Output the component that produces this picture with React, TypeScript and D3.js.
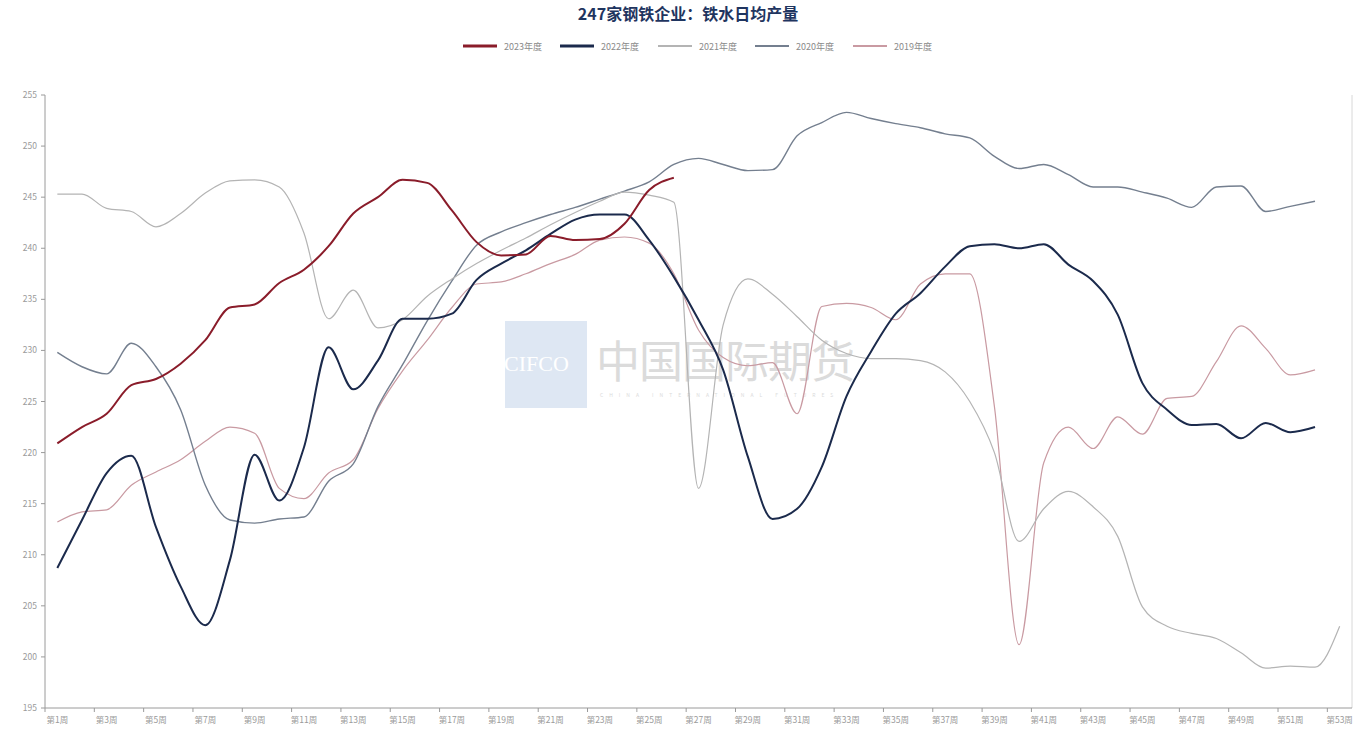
import React from "react";
import * as d3 from "d3";

const title = "247家钢铁企业：铁水日均产量";
const weeks: string[] = Array.from({ length: 53 }, (_, i) => `第${i + 1}周`);
const yTicks = [195, 200, 205, 210, 215, 220, 225, 230, 235, 240, 245, 250, 255];

const s2023 = [220.9, 222.5, 223.8, 226.6, 227.2, 228.7, 231.0, 234.2, 234.5, 236.6, 237.9, 240.2, 243.4, 245.0, 246.7, 246.4, 243.7, 240.6, 239.3, 239.4, 241.2, 240.8, 240.9, 242.4, 245.7, 246.9];
const s2022 = [208.7, 213.4, 218.0, 219.7, 212.7, 206.9, 203.1, 209.5, 219.8, 215.3, 220.5, 230.3, 226.2, 229.0, 233.1, 233.1, 233.6, 236.9, 238.5, 239.8, 241.4, 242.8, 243.3, 243.3, 240.8, 237.2, 233.0, 228.1, 219.6, 213.5, 214.5, 218.6, 225.5, 229.9, 233.6, 235.6, 238.2, 240.2, 240.4, 240.0, 240.4, 238.4, 236.8, 233.5, 226.8, 224.2, 222.7, 222.8, 221.4, 222.9, 222.0, 222.5];
const s2021 = [245.3, 245.3, 243.9, 243.6, 242.1, 243.4, 245.4, 246.6, 246.7, 246.0, 241.5, 233.1, 235.9, 232.2, 233.0, 235.3, 237.0, 238.5, 239.8, 241.0, 242.3, 243.5, 244.6, 245.5, 245.2, 244.5, 216.5, 232.5, 237.0, 235.5, 233.3, 231.0, 229.7, 229.2, 229.2, 229.0, 227.9, 225.0, 220.0, 211.3, 214.5, 216.2, 214.7, 211.8, 204.9, 203.0, 202.3, 201.8, 200.4, 198.9, 199.1, 199.0, 203.0];
const s2020 = [229.8, 228.4, 227.7, 230.7, 228.4, 224.2, 216.8, 213.4, 213.1, 213.5, 213.7, 217.2, 218.9, 224.5, 228.6, 232.9, 236.8, 240.3, 241.6, 242.5, 243.3, 244.0, 244.8, 245.6, 246.5, 248.2, 248.8, 248.2, 247.6, 247.7, 251.0, 252.3, 253.3, 252.7, 252.2, 251.8, 251.2, 250.8, 249.0, 247.8, 248.2, 247.2, 246.0, 246.0, 245.5, 244.9, 244.0, 246.0, 246.1, 243.6, 244.1, 244.6];
const s2019 = [213.2, 214.2, 214.4, 216.8, 218.1, 219.3, 221.1, 222.5, 221.9, 216.5, 215.5, 218.0, 219.3, 224.3, 228.0, 231.0, 234.2, 236.5, 236.7, 237.5, 238.5, 239.4, 240.8, 241.1, 240.5, 237.5, 232.0, 229.3, 228.5, 228.8, 223.8, 234.3, 234.6, 234.2, 233.0, 236.5, 237.5, 237.5, 224.5, 201.2, 219.0, 222.5, 220.4, 223.5, 221.8, 225.3, 225.5, 228.9, 232.4, 230.2, 227.6, 228.1];

const seriesNames = ["2023年度", "2022年度", "2021年度", "2020年度", "2019年度"];
const seriesData = [s2023, s2022, s2021, s2020, s2019];
const seriesColors = ["#8a1c2a", "#1b2a4c", "#b4b4b4", "#747f8f", "#c99aa2"];
const seriesWidths = [2, 2, 1.2, 1.4, 1.2];

export default function App() {
  const W = 1360, H = 732;
  const left = 45, right = 1352, top = 95, bottom = 708;
  const x = d3.scaleBand<string>().domain(weeks).range([left, right]).paddingInner(0).paddingOuter(0);
  const bw = x.bandwidth();
  const cx = (i: number) => (x(weeks[i]) as number) + bw / 2;
  const y = d3.scaleLinear().domain([195, 255]).range([bottom, top]);
  const line = d3.line<number>().x((_, i) => cx(i)).y((d) => y(d)).curve(d3.curveMonotoneX);

  const legendX = [463, 560, 658, 755, 853];
  const drawOrder = [4, 3, 2, 1, 0];

  return (
    <svg width={W} height={H} style={{ position: "absolute", left: 0, top: 0, background: "#fff" }} fontFamily="'Noto Sans CJK SC', 'Noto Sans', sans-serif">
      <rect x={0} y={0} width={W} height={H} fill="#fff" />
      <text x={688} y={20} textAnchor="middle" fontSize={16} fontWeight="bold" fill="#1f3560">{title}</text>
      {seriesNames.map((n, i) => (
        <g key={n}>
          <line x1={legendX[i]} x2={legendX[i] + 34} y1={46} y2={46} stroke={seriesColors[i]} strokeWidth={seriesWidths[i] + 0.8} />
          <text x={legendX[i] + 41} y={49.5} fontSize={9} fill="#8a8a8a">{n}</text>
        </g>
      ))}
      {/* watermark */}
      <g opacity={0.75}>
        <rect x={505} y={321} width={82} height={87} fill="#d4e0ef" />
        <text x={504} y={371} fontSize={22} fill="#ffffff" fontFamily="'Liberation Serif', serif">CIFCO</text>
        <text x={596} y={378} fontSize={44} fill="#cfcfcf" letterSpacing={-1}>中国国际期货</text>
        <text x={600} y={397} fontSize={5} fill="#cfcfcf" letterSpacing={6}>CHINA INTERNATIONAL FUTURES</text>
      </g>
      {/* axes */}
      <line x1={left} x2={left} y1={top} y2={bottom} stroke="#9a9a9a" />
      <line x1={right} x2={right} y1={top} y2={bottom} stroke="#d8d8d8" />
      <line x1={left} x2={right} y1={bottom} y2={bottom} stroke="#9a9a9a" />
      {yTicks.map((t) => (
        <g key={t}>
          <line x1={left - 4} x2={left} y1={y(t)} y2={y(t)} stroke="#9a9a9a" />
          <text x={left - 8} y={y(t) + 3} fontSize={8.5} textAnchor="end" fill="#9a9a9a">{t}</text>
        </g>
      ))}
      {weeks.map((w, i) =>
        i % 2 === 0 ? (
          <g key={w}>
            <line x1={x(w) as number} x2={x(w) as number} y1={bottom} y2={bottom + 4} stroke="#9a9a9a" />
            <text x={cx(i)} y={bottom + 15} fontSize={8.5} textAnchor="middle" fill="#9a9a9a">{w}</text>
          </g>
        ) : null
      )}
      {drawOrder.map((k) => (
        <path key={seriesNames[k]} d={line(seriesData[k]) || ""} fill="none" stroke={seriesColors[k]} strokeWidth={seriesWidths[k]} strokeLinejoin="round" />
      ))}
    </svg>
  );
}
